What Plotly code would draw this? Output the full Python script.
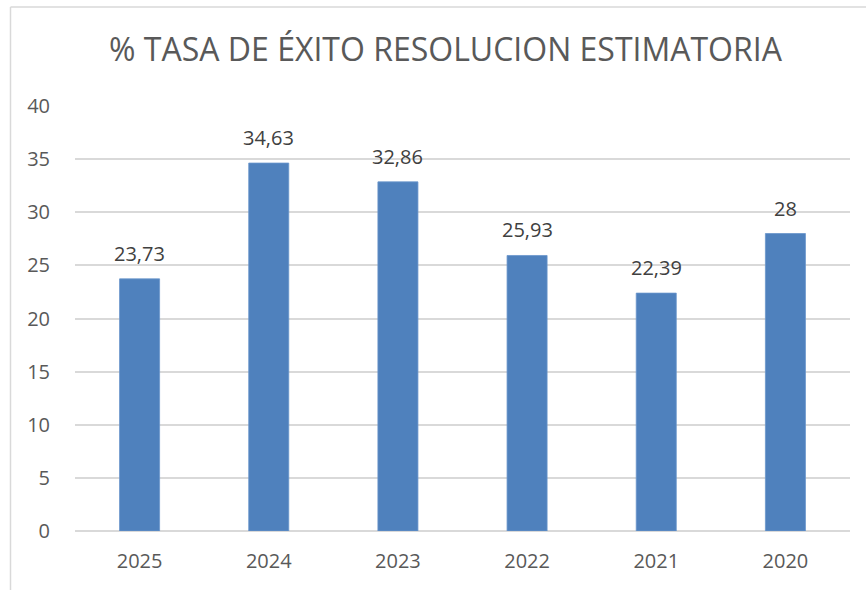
import plotly.graph_objects as go

title_text = "% TASA DE ÉXITO RESOLUCION ESTIMATORIA"
years = ["2025", "2024", "2023", "2022", "2021", "2020"]
rates = [23.73, 34.63, 32.86, 25.93, 22.39, 28]
y_ticks = [0, 5, 10, 15, 20, 25, 30, 35, 40]

W, H = 866, 590
L, R, T, B = 75, 16, 106, 59
pw, ph = W - L - R, H - T - B

def fmt(v):
    return f"{v:g}".replace(".", ",")

fig = go.Figure()
fig.add_trace(go.Bar(
    x=years, y=rates, width=0.31,
    marker=dict(color="#4F81BD", line=dict(color="#6A95CC", width=0.8)),
    hoverinfo="skip",
))

# category axis: annotations are placed by category index
for i, yv in enumerate(rates):
    fig.add_annotation(x=i, y=yv, xref="x", yref="y", text=fmt(yv), showarrow=False,
                       yanchor="bottom", yshift=10,
                       font=dict(family="Open Sans", size=20, color="#404040"))

gray = "#D9D9D9"
def px_x(p):
    return (p - L) / pw
def px_y(p):
    return (H - B - p) / ph

fig.add_shape(type="line", xref="paper", yref="paper",
              x0=px_x(10.5), x1=px_x(900), y0=px_y(7), y1=px_y(7),
              line=dict(color=gray, width=1.5))
fig.add_shape(type="line", xref="paper", yref="paper",
              x0=px_x(10.5), x1=px_x(10.5), y0=px_y(7), y1=px_y(620),
              line=dict(color=gray, width=1.5))

fig.update_layout(
    width=W, height=H,
    margin=dict(l=L, r=R, t=T, b=B),
    paper_bgcolor="white", plot_bgcolor="white",
    showlegend=False,
    title=dict(text=title_text, x=445.5 / W, xref="container", xanchor="center",
               y=1 - 50 / H, yref="container", yanchor="middle",
               font=dict(family="Open Sans", size=32, color="#595959")),
    font=dict(family="Open Sans", color="#595959"),
    xaxis=dict(type="category", categoryorder="array", categoryarray=years,
               range=[-0.5, len(years) - 0.5],
               showgrid=False, showline=False, zeroline=False,
               ticks="outside", ticklen=12, tickcolor="rgba(0,0,0,0)",
               tickfont=dict(size=20, color="#595959")),
    yaxis=dict(range=[0, 40], tickvals=y_ticks, showgrid=True, gridcolor=gray,
               gridwidth=1.5, zeroline=True, zerolinecolor=gray, zerolinewidth=1.5,
               showline=False, ticks="outside", ticklen=20, tickcolor="rgba(0,0,0,0)",
               tickfont=dict(size=20, color="#595959")),
)

fig.write_html("out.html", config={"displayModeBar": False},
               post_script="document.body.style.margin='0px';")
